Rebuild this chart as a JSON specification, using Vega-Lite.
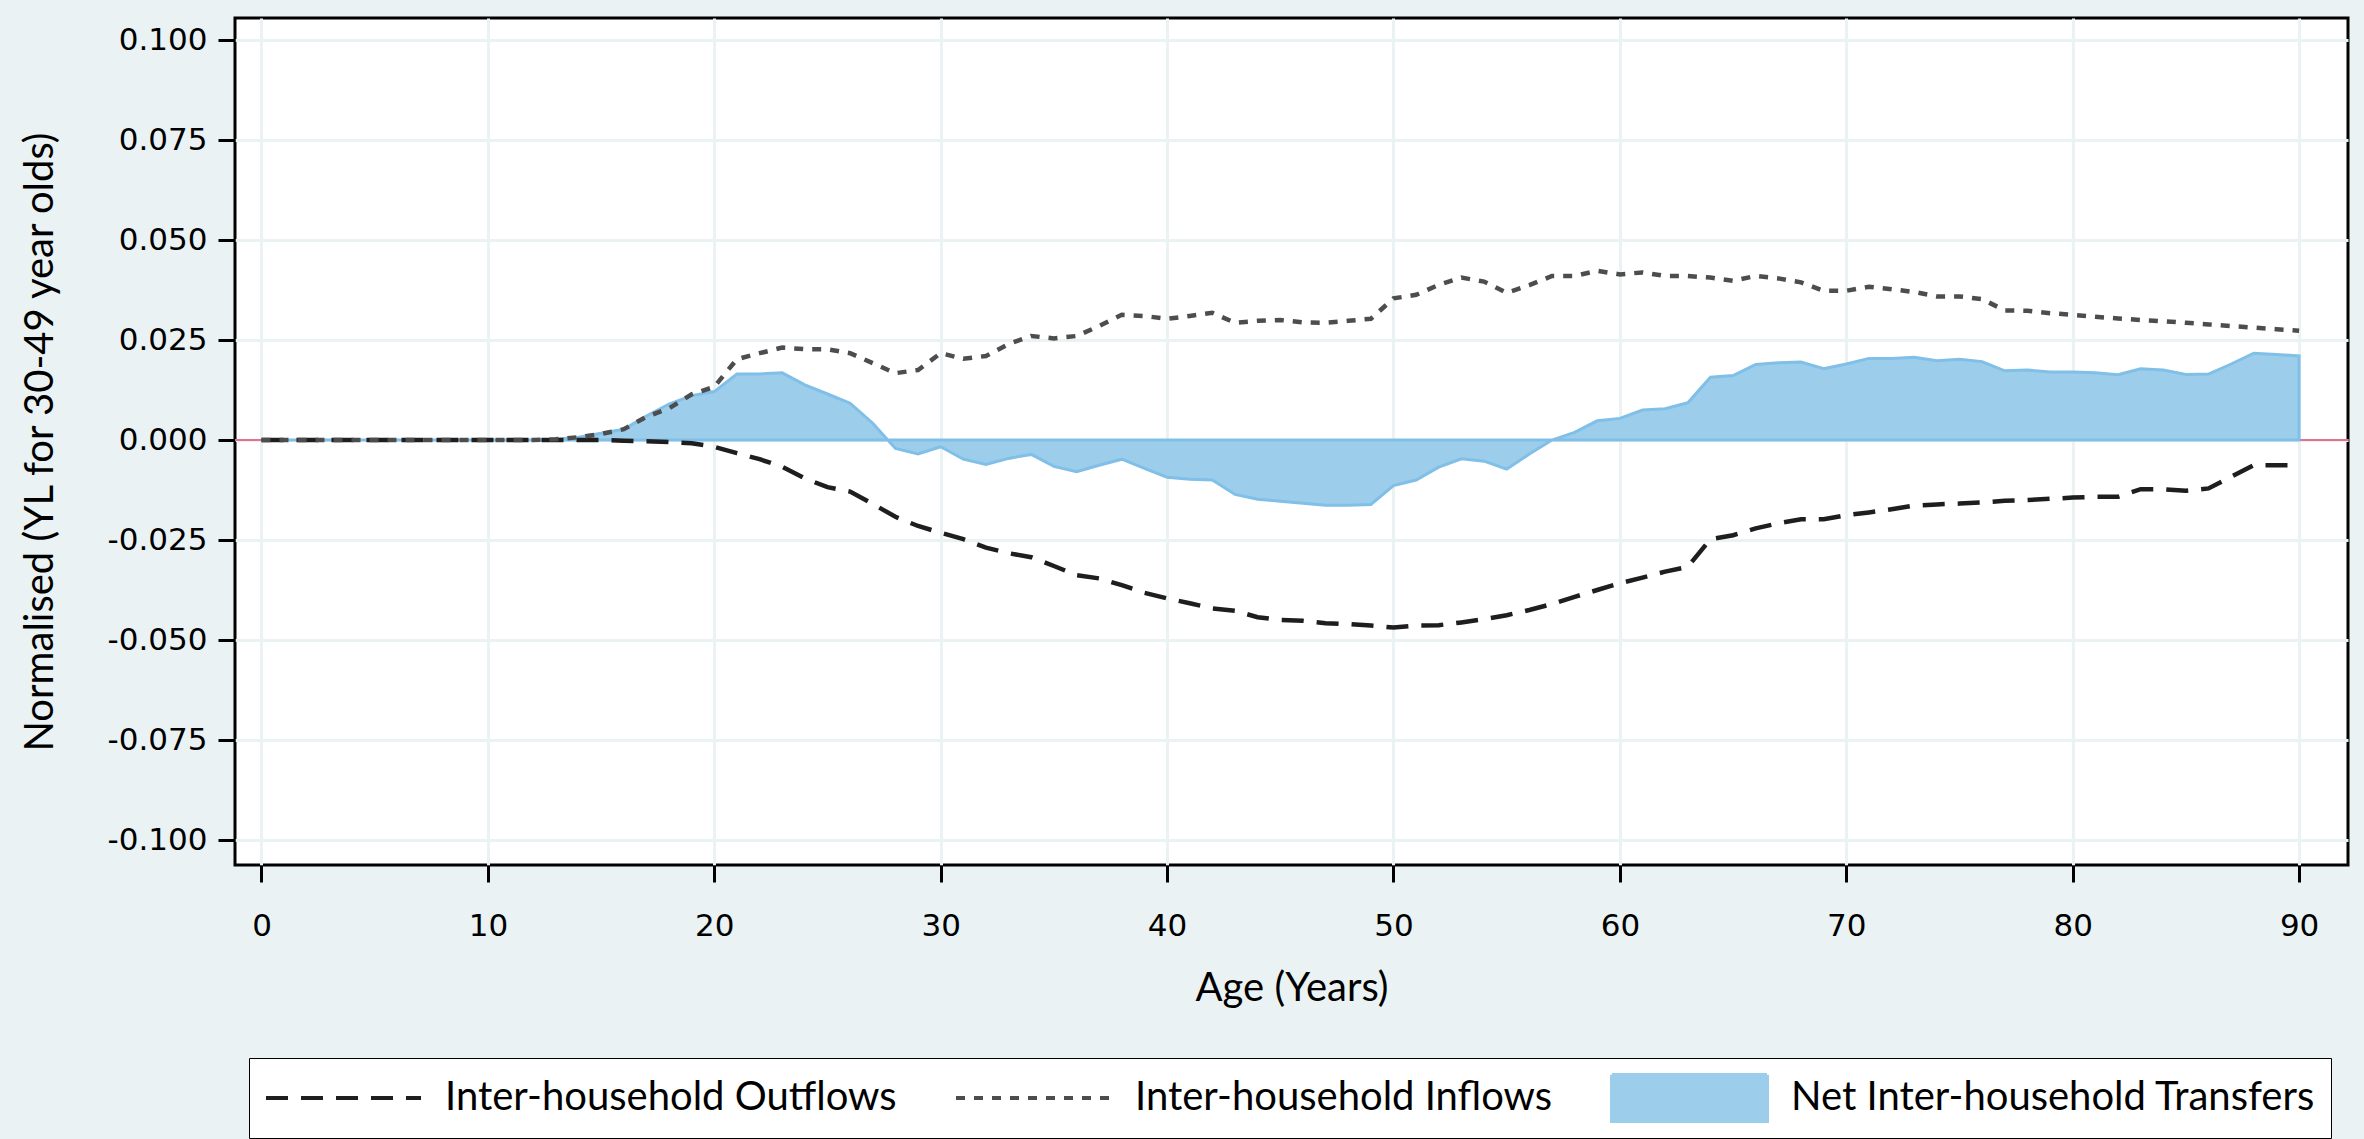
{
  "$schema": "https://vega.github.io/schema/vega-lite/v6.json",
  "autosize": {"type": "none"},
  "width": 2113,
  "height": 847,
  "padding": {"left": 235, "top": 18, "right": 16, "bottom": 274},
  "background": "#EAF2F3",
  "datasets": {
    "outflows": [
      {"age":0,"value":0,"series":"Inter-household Outflows"},{"age":1,"value":0,"series":"Inter-household Outflows"},{"age":2,"value":0,"series":"Inter-household Outflows"},{"age":3,"value":0,"series":"Inter-household Outflows"},{"age":4,"value":0,"series":"Inter-household Outflows"},{"age":5,"value":0,"series":"Inter-household Outflows"},{"age":6,"value":0,"series":"Inter-household Outflows"},{"age":7,"value":0,"series":"Inter-household Outflows"},{"age":8,"value":0,"series":"Inter-household Outflows"},{"age":9,"value":0,"series":"Inter-household Outflows"},
      {"age":10,"value":0,"series":"Inter-household Outflows"},{"age":11,"value":0,"series":"Inter-household Outflows"},{"age":12,"value":0,"series":"Inter-household Outflows"},{"age":13,"value":0,"series":"Inter-household Outflows"},{"age":14,"value":0,"series":"Inter-household Outflows"},{"age":15,"value":0,"series":"Inter-household Outflows"},{"age":16,"value":-0.0002,"series":"Inter-household Outflows"},{"age":17,"value":-0.0003,"series":"Inter-household Outflows"},{"age":18,"value":-0.0005,"series":"Inter-household Outflows"},{"age":19,"value":-0.0008,"series":"Inter-household Outflows"},
      {"age":20,"value":-0.0017,"series":"Inter-household Outflows"},{"age":21,"value":-0.0033,"series":"Inter-household Outflows"},{"age":22,"value":-0.0048,"series":"Inter-household Outflows"},{"age":23,"value":-0.0067,"series":"Inter-household Outflows"},{"age":24,"value":-0.0096,"series":"Inter-household Outflows"},{"age":25,"value":-0.0118,"series":"Inter-household Outflows"},{"age":26,"value":-0.0129,"series":"Inter-household Outflows"},{"age":27,"value":-0.016,"series":"Inter-household Outflows"},{"age":28,"value":-0.0192,"series":"Inter-household Outflows"},{"age":29,"value":-0.0215,"series":"Inter-household Outflows"},
      {"age":30,"value":-0.0232,"series":"Inter-household Outflows"},{"age":31,"value":-0.0248,"series":"Inter-household Outflows"},{"age":32,"value":-0.0269,"series":"Inter-household Outflows"},{"age":33,"value":-0.0283,"series":"Inter-household Outflows"},{"age":34,"value":-0.0293,"series":"Inter-household Outflows"},{"age":35,"value":-0.0315,"series":"Inter-household Outflows"},{"age":36,"value":-0.0338,"series":"Inter-household Outflows"},{"age":37,"value":-0.0346,"series":"Inter-household Outflows"},{"age":38,"value":-0.0363,"series":"Inter-household Outflows"},{"age":39,"value":-0.0382,"series":"Inter-household Outflows"},
      {"age":40,"value":-0.0396,"series":"Inter-household Outflows"},{"age":41,"value":-0.0408,"series":"Inter-household Outflows"},{"age":42,"value":-0.0421,"series":"Inter-household Outflows"},{"age":43,"value":-0.0427,"series":"Inter-household Outflows"},{"age":44,"value":-0.0443,"series":"Inter-household Outflows"},{"age":45,"value":-0.045,"series":"Inter-household Outflows"},{"age":46,"value":-0.0452,"series":"Inter-household Outflows"},{"age":47,"value":-0.0458,"series":"Inter-household Outflows"},{"age":48,"value":-0.046,"series":"Inter-household Outflows"},{"age":49,"value":-0.0464,"series":"Inter-household Outflows"},
      {"age":50,"value":-0.0469,"series":"Inter-household Outflows"},{"age":51,"value":-0.0464,"series":"Inter-household Outflows"},{"age":52,"value":-0.0463,"series":"Inter-household Outflows"},{"age":53,"value":-0.0456,"series":"Inter-household Outflows"},{"age":54,"value":-0.0448,"series":"Inter-household Outflows"},{"age":55,"value":-0.0438,"series":"Inter-household Outflows"},{"age":56,"value":-0.0425,"series":"Inter-household Outflows"},{"age":57,"value":-0.041,"series":"Inter-household Outflows"},{"age":58,"value":-0.0392,"series":"Inter-household Outflows"},{"age":59,"value":-0.0375,"series":"Inter-household Outflows"},
      {"age":60,"value":-0.0358,"series":"Inter-household Outflows"},{"age":61,"value":-0.0344,"series":"Inter-household Outflows"},{"age":62,"value":-0.0329,"series":"Inter-household Outflows"},{"age":63,"value":-0.0317,"series":"Inter-household Outflows"},{"age":64,"value":-0.0248,"series":"Inter-household Outflows"},{"age":65,"value":-0.0238,"series":"Inter-household Outflows"},{"age":66,"value":-0.0221,"series":"Inter-household Outflows"},{"age":67,"value":-0.0208,"series":"Inter-household Outflows"},{"age":68,"value":-0.0198,"series":"Inter-household Outflows"},{"age":69,"value":-0.0198,"series":"Inter-household Outflows"},
      {"age":70,"value":-0.0188,"series":"Inter-household Outflows"},{"age":71,"value":-0.0181,"series":"Inter-household Outflows"},{"age":72,"value":-0.0173,"series":"Inter-household Outflows"},{"age":73,"value":-0.0164,"series":"Inter-household Outflows"},{"age":74,"value":-0.0161,"series":"Inter-household Outflows"},{"age":75,"value":-0.0159,"series":"Inter-household Outflows"},{"age":76,"value":-0.0156,"series":"Inter-household Outflows"},{"age":77,"value":-0.0152,"series":"Inter-household Outflows"},{"age":78,"value":-0.015,"series":"Inter-household Outflows"},{"age":79,"value":-0.0147,"series":"Inter-household Outflows"},
      {"age":80,"value":-0.0144,"series":"Inter-household Outflows"},{"age":81,"value":-0.0142,"series":"Inter-household Outflows"},{"age":82,"value":-0.0142,"series":"Inter-household Outflows"},{"age":83,"value":-0.0123,"series":"Inter-household Outflows"},{"age":84,"value":-0.0123,"series":"Inter-household Outflows"},{"age":85,"value":-0.0127,"series":"Inter-household Outflows"},{"age":86,"value":-0.0121,"series":"Inter-household Outflows"},{"age":87,"value":-0.0092,"series":"Inter-household Outflows"},{"age":88,"value":-0.0063,"series":"Inter-household Outflows"},{"age":89,"value":-0.0063,"series":"Inter-household Outflows"},
      {"age":90,"value":-0.0063,"series":"Inter-household Outflows"}
    ],
    "inflows": [
      {"age":0,"value":0,"series":"Inter-household Inflows"},{"age":1,"value":0,"series":"Inter-household Inflows"},{"age":2,"value":0,"series":"Inter-household Inflows"},{"age":3,"value":0,"series":"Inter-household Inflows"},{"age":4,"value":0,"series":"Inter-household Inflows"},{"age":5,"value":0,"series":"Inter-household Inflows"},{"age":6,"value":0,"series":"Inter-household Inflows"},{"age":7,"value":0,"series":"Inter-household Inflows"},{"age":8,"value":0,"series":"Inter-household Inflows"},{"age":9,"value":0,"series":"Inter-household Inflows"},
      {"age":10,"value":0,"series":"Inter-household Inflows"},{"age":11,"value":0,"series":"Inter-household Inflows"},{"age":12,"value":0,"series":"Inter-household Inflows"},{"age":13,"value":0.0002,"series":"Inter-household Inflows"},{"age":14,"value":0.0007,"series":"Inter-household Inflows"},{"age":15,"value":0.0015,"series":"Inter-household Inflows"},{"age":16,"value":0.0027,"series":"Inter-household Inflows"},{"age":17,"value":0.0058,"series":"Inter-household Inflows"},{"age":18,"value":0.0079,"series":"Inter-household Inflows"},{"age":19,"value":0.0114,"series":"Inter-household Inflows"},
      {"age":20,"value":0.0133,"series":"Inter-household Inflows"},{"age":21,"value":0.0202,"series":"Inter-household Inflows"},{"age":22,"value":0.0217,"series":"Inter-household Inflows"},{"age":23,"value":0.0231,"series":"Inter-household Inflows"},{"age":24,"value":0.0227,"series":"Inter-household Inflows"},{"age":25,"value":0.0227,"series":"Inter-household Inflows"},{"age":26,"value":0.0217,"series":"Inter-household Inflows"},{"age":27,"value":0.0192,"series":"Inter-household Inflows"},{"age":28,"value":0.0167,"series":"Inter-household Inflows"},{"age":29,"value":0.0175,"series":"Inter-household Inflows"},
      {"age":30,"value":0.0217,"series":"Inter-household Inflows"},{"age":31,"value":0.0203,"series":"Inter-household Inflows"},{"age":32,"value":0.021,"series":"Inter-household Inflows"},{"age":33,"value":0.024,"series":"Inter-household Inflows"},{"age":34,"value":0.026,"series":"Inter-household Inflows"},{"age":35,"value":0.0254,"series":"Inter-household Inflows"},{"age":36,"value":0.026,"series":"Inter-household Inflows"},{"age":37,"value":0.0285,"series":"Inter-household Inflows"},{"age":38,"value":0.0313,"series":"Inter-household Inflows"},{"age":39,"value":0.031,"series":"Inter-household Inflows"},
      {"age":40,"value":0.0303,"series":"Inter-household Inflows"},{"age":41,"value":0.031,"series":"Inter-household Inflows"},{"age":42,"value":0.0318,"series":"Inter-household Inflows"},{"age":43,"value":0.0293,"series":"Inter-household Inflows"},{"age":44,"value":0.0298,"series":"Inter-household Inflows"},{"age":45,"value":0.03,"series":"Inter-household Inflows"},{"age":46,"value":0.0294,"series":"Inter-household Inflows"},{"age":47,"value":0.0293,"series":"Inter-household Inflows"},{"age":48,"value":0.0298,"series":"Inter-household Inflows"},{"age":49,"value":0.0303,"series":"Inter-household Inflows"},
      {"age":50,"value":0.0354,"series":"Inter-household Inflows"},{"age":51,"value":0.0363,"series":"Inter-household Inflows"},{"age":52,"value":0.0388,"series":"Inter-household Inflows"},{"age":53,"value":0.0406,"series":"Inter-household Inflows"},{"age":54,"value":0.0396,"series":"Inter-household Inflows"},{"age":55,"value":0.0368,"series":"Inter-household Inflows"},{"age":56,"value":0.0387,"series":"Inter-household Inflows"},{"age":57,"value":0.041,"series":"Inter-household Inflows"},{"age":58,"value":0.041,"series":"Inter-household Inflows"},{"age":59,"value":0.0423,"series":"Inter-household Inflows"},
      {"age":60,"value":0.0414,"series":"Inter-household Inflows"},{"age":61,"value":0.0419,"series":"Inter-household Inflows"},{"age":62,"value":0.041,"series":"Inter-household Inflows"},{"age":63,"value":0.041,"series":"Inter-household Inflows"},{"age":64,"value":0.0406,"series":"Inter-household Inflows"},{"age":65,"value":0.0398,"series":"Inter-household Inflows"},{"age":66,"value":0.041,"series":"Inter-household Inflows"},{"age":67,"value":0.0404,"series":"Inter-household Inflows"},{"age":68,"value":0.0394,"series":"Inter-household Inflows"},{"age":69,"value":0.0373,"series":"Inter-household Inflows"},
      {"age":70,"value":0.0373,"series":"Inter-household Inflows"},{"age":71,"value":0.0383,"series":"Inter-household Inflows"},{"age":72,"value":0.0377,"series":"Inter-household Inflows"},{"age":73,"value":0.037,"series":"Inter-household Inflows"},{"age":74,"value":0.0359,"series":"Inter-household Inflows"},{"age":75,"value":0.0359,"series":"Inter-household Inflows"},{"age":76,"value":0.0352,"series":"Inter-household Inflows"},{"age":77,"value":0.0324,"series":"Inter-household Inflows"},{"age":78,"value":0.0323,"series":"Inter-household Inflows"},{"age":79,"value":0.0317,"series":"Inter-household Inflows"},
      {"age":80,"value":0.0313,"series":"Inter-household Inflows"},{"age":81,"value":0.0308,"series":"Inter-household Inflows"},{"age":82,"value":0.0304,"series":"Inter-household Inflows"},{"age":83,"value":0.03,"series":"Inter-household Inflows"},{"age":84,"value":0.0297,"series":"Inter-household Inflows"},{"age":85,"value":0.0293,"series":"Inter-household Inflows"},{"age":86,"value":0.0289,"series":"Inter-household Inflows"},{"age":87,"value":0.0285,"series":"Inter-household Inflows"},{"age":88,"value":0.0281,"series":"Inter-household Inflows"},{"age":89,"value":0.0277,"series":"Inter-household Inflows"},
      {"age":90,"value":0.0273,"series":"Inter-household Inflows"}
    ],
    "net": [
      {"age":0,"value":0,"series":"Net Inter-household Transfers"},{"age":1,"value":0,"series":"Net Inter-household Transfers"},{"age":2,"value":0,"series":"Net Inter-household Transfers"},{"age":3,"value":0,"series":"Net Inter-household Transfers"},{"age":4,"value":0,"series":"Net Inter-household Transfers"},{"age":5,"value":0,"series":"Net Inter-household Transfers"},{"age":6,"value":0,"series":"Net Inter-household Transfers"},{"age":7,"value":0,"series":"Net Inter-household Transfers"},{"age":8,"value":0,"series":"Net Inter-household Transfers"},{"age":9,"value":0,"series":"Net Inter-household Transfers"},
      {"age":10,"value":0,"series":"Net Inter-household Transfers"},{"age":11,"value":0,"series":"Net Inter-household Transfers"},{"age":12,"value":0,"series":"Net Inter-household Transfers"},{"age":13,"value":0.0002,"series":"Net Inter-household Transfers"},{"age":14,"value":0.0007,"series":"Net Inter-household Transfers"},{"age":15,"value":0.0017,"series":"Net Inter-household Transfers"},{"age":16,"value":0.0027,"series":"Net Inter-household Transfers"},{"age":17,"value":0.006,"series":"Net Inter-household Transfers"},{"age":18,"value":0.009,"series":"Net Inter-household Transfers"},{"age":19,"value":0.0111,"series":"Net Inter-household Transfers"},
      {"age":20,"value":0.0121,"series":"Net Inter-household Transfers"},{"age":21,"value":0.0165,"series":"Net Inter-household Transfers"},{"age":22,"value":0.0165,"series":"Net Inter-household Transfers"},{"age":23,"value":0.0168,"series":"Net Inter-household Transfers"},{"age":24,"value":0.0138,"series":"Net Inter-household Transfers"},{"age":25,"value":0.0115,"series":"Net Inter-household Transfers"},{"age":26,"value":0.0092,"series":"Net Inter-household Transfers"},{"age":27,"value":0.0042,"series":"Net Inter-household Transfers"},{"age":28,"value":-0.0021,"series":"Net Inter-household Transfers"},{"age":29,"value":-0.0035,"series":"Net Inter-household Transfers"},
      {"age":30,"value":-0.0017,"series":"Net Inter-household Transfers"},{"age":31,"value":-0.0048,"series":"Net Inter-household Transfers"},{"age":32,"value":-0.0061,"series":"Net Inter-household Transfers"},{"age":33,"value":-0.0046,"series":"Net Inter-household Transfers"},{"age":34,"value":-0.0036,"series":"Net Inter-household Transfers"},{"age":35,"value":-0.0066,"series":"Net Inter-household Transfers"},{"age":36,"value":-0.0079,"series":"Net Inter-household Transfers"},{"age":37,"value":-0.0063,"series":"Net Inter-household Transfers"},{"age":38,"value":-0.0048,"series":"Net Inter-household Transfers"},{"age":39,"value":-0.0071,"series":"Net Inter-household Transfers"},
      {"age":40,"value":-0.0093,"series":"Net Inter-household Transfers"},{"age":41,"value":-0.0098,"series":"Net Inter-household Transfers"},{"age":42,"value":-0.01,"series":"Net Inter-household Transfers"},{"age":43,"value":-0.0136,"series":"Net Inter-household Transfers"},{"age":44,"value":-0.0148,"series":"Net Inter-household Transfers"},{"age":45,"value":-0.0153,"series":"Net Inter-household Transfers"},{"age":46,"value":-0.0158,"series":"Net Inter-household Transfers"},{"age":47,"value":-0.0163,"series":"Net Inter-household Transfers"},{"age":48,"value":-0.0163,"series":"Net Inter-household Transfers"},{"age":49,"value":-0.0161,"series":"Net Inter-household Transfers"},
      {"age":50,"value":-0.0114,"series":"Net Inter-household Transfers"},{"age":51,"value":-0.01,"series":"Net Inter-household Transfers"},{"age":52,"value":-0.0068,"series":"Net Inter-household Transfers"},{"age":53,"value":-0.0047,"series":"Net Inter-household Transfers"},{"age":54,"value":-0.0053,"series":"Net Inter-household Transfers"},{"age":55,"value":-0.0073,"series":"Net Inter-household Transfers"},{"age":56,"value":-0.0035,"series":"Net Inter-household Transfers"},{"age":57,"value":0,"series":"Net Inter-household Transfers"},{"age":58,"value":0.0019,"series":"Net Inter-household Transfers"},{"age":59,"value":0.0048,"series":"Net Inter-household Transfers"},
      {"age":60,"value":0.0054,"series":"Net Inter-household Transfers"},{"age":61,"value":0.0075,"series":"Net Inter-household Transfers"},{"age":62,"value":0.0078,"series":"Net Inter-household Transfers"},{"age":63,"value":0.0093,"series":"Net Inter-household Transfers"},{"age":64,"value":0.0157,"series":"Net Inter-household Transfers"},{"age":65,"value":0.0161,"series":"Net Inter-household Transfers"},{"age":66,"value":0.0189,"series":"Net Inter-household Transfers"},{"age":67,"value":0.0193,"series":"Net Inter-household Transfers"},{"age":68,"value":0.0195,"series":"Net Inter-household Transfers"},{"age":69,"value":0.0178,"series":"Net Inter-household Transfers"},
      {"age":70,"value":0.019,"series":"Net Inter-household Transfers"},{"age":71,"value":0.0204,"series":"Net Inter-household Transfers"},{"age":72,"value":0.0204,"series":"Net Inter-household Transfers"},{"age":73,"value":0.0207,"series":"Net Inter-household Transfers"},{"age":74,"value":0.0198,"series":"Net Inter-household Transfers"},{"age":75,"value":0.0202,"series":"Net Inter-household Transfers"},{"age":76,"value":0.0196,"series":"Net Inter-household Transfers"},{"age":77,"value":0.0173,"series":"Net Inter-household Transfers"},{"age":78,"value":0.0175,"series":"Net Inter-household Transfers"},{"age":79,"value":0.017,"series":"Net Inter-household Transfers"},
      {"age":80,"value":0.017,"series":"Net Inter-household Transfers"},{"age":81,"value":0.0168,"series":"Net Inter-household Transfers"},{"age":82,"value":0.0163,"series":"Net Inter-household Transfers"},{"age":83,"value":0.0178,"series":"Net Inter-household Transfers"},{"age":84,"value":0.0175,"series":"Net Inter-household Transfers"},{"age":85,"value":0.0164,"series":"Net Inter-household Transfers"},{"age":86,"value":0.0165,"series":"Net Inter-household Transfers"},{"age":87,"value":0.019,"series":"Net Inter-household Transfers"},{"age":88,"value":0.0217,"series":"Net Inter-household Transfers"},{"age":89,"value":0.0214,"series":"Net Inter-household Transfers"},
      {"age":90,"value":0.021,"series":"Net Inter-household Transfers"}
    ],
    "zeroline": [{"value": 0}]
  },
  "config": {
    "view": {"stroke": "#000000", "strokeWidth": 3, "fill": "#ffffff"},
    "axis": {
      "domain": false,
      "grid": true,
      "gridColor": "#EAF2F3",
      "gridWidth": 3,
      "tickColor": "#000000",
      "tickWidth": 3,
      "tickSize": 17,
      "labelFont": "DejaVu Sans",
      "labelFontSize": 31,
      "labelColor": "#000000",
      "titleFont": "Lato",
      "titleFontSize": 40,
      "titleFontWeight": "normal",
      "titleColor": "#000000"
    },
    "legend": {
      "labelFont": "Lato",
      "labelFontSize": 40,
      "labelColor": "#000000",
      "labelLimit": 1000
    }
  },
  "layer": [
    {
      "data": {"name": "zeroline"},
      "mark": {"type": "rule", "color": "#E2718C", "strokeWidth": 2},
      "encoding": {
        "y": {"field": "value", "type": "quantitative"}
      }
    },
    {
      "data": {"name": "net"},
      "mark": {"type": "area", "stroke": "#80BFE8", "strokeWidth": 3, "opacity": 1},
      "encoding": {
        "x": {
          "field": "age", "type": "quantitative",
          "scale": {"domain": [-1.17, 92.16], "nice": false, "zero": false},
          "axis": {"values": [0,10,20,30,40,50,60,70,80,90], "title": "Age (Years)", "labelPadding": 29, "titlePadding": 27}
        },
        "y": {
          "field": "value", "type": "quantitative", "stack": null,
          "scale": {"domain": [-0.10625, 0.1055], "nice": false, "zero": false},
          "axis": {
            "values": [-0.1,-0.075,-0.05,-0.025,0,0.025,0.05,0.075,0.1],
            "labelExpr": "replace(format(datum.value, '.3f'), '\u2212', '-')",
            "title": "Normalised (YL for 30-49 year olds)",
            "labelPadding": 11,
            "titlePadding": 47
          }
        },
        "color": {
          "field": "series", "type": "nominal",
          "scale": {
            "domain": ["Inter-household Outflows", "Inter-household Inflows", "Net Inter-household Transfers"],
            "range": ["#1E1E1E", "#4D4D4D", "#9CCDEA"]
          },
          "legend": {
            "title": null,
            "orient": "none",
            "legendX": 14,
            "legendY": 1040,
            "direction": "horizontal",
            "padding": 15,
            "columnPadding": 57,
            "labelOffset": 22,
            "clipHeight": 50,
            "symbolType": {"expr": "datum.value === 'Net Inter-household Transfers' ? 'M-1,-0.3H1V0.3H-1Z' : 'stroke'"},
            "symbolDash": {"expr": "datum.value === 'Inter-household Outflows' ? [22,13] : datum.value === 'Inter-household Inflows' ? [9,9] : [1,0]"},
            "symbolFillColor": {"expr": "datum.value === 'Net Inter-household Transfers' ? '#9CCDEA' : 'transparent'"},
            "symbolSize": 24025,
            "symbolStrokeWidth": 4,
            "symbolOpacity": 1,
            "strokeColor": "#000000",
            "fillColor": "#ffffff",
            "encode": {
              "legend": {"strokeWidth": {"value": 3}}
            }
          }
        }
      }
    },
    {
      "data": {"name": "outflows"},
      "mark": {"type": "line", "strokeWidth": 4.5, "strokeDash": [22, 13]},
      "encoding": {
        "x": {"field": "age", "type": "quantitative"},
        "y": {"field": "value", "type": "quantitative"},
        "color": {"field": "series", "type": "nominal"}
      }
    },
    {
      "data": {"name": "inflows"},
      "mark": {"type": "line", "strokeWidth": 4.5, "strokeDash": [9, 9]},
      "encoding": {
        "x": {"field": "age", "type": "quantitative"},
        "y": {"field": "value", "type": "quantitative"},
        "color": {"field": "series", "type": "nominal"}
      }
    }
  ]
}
